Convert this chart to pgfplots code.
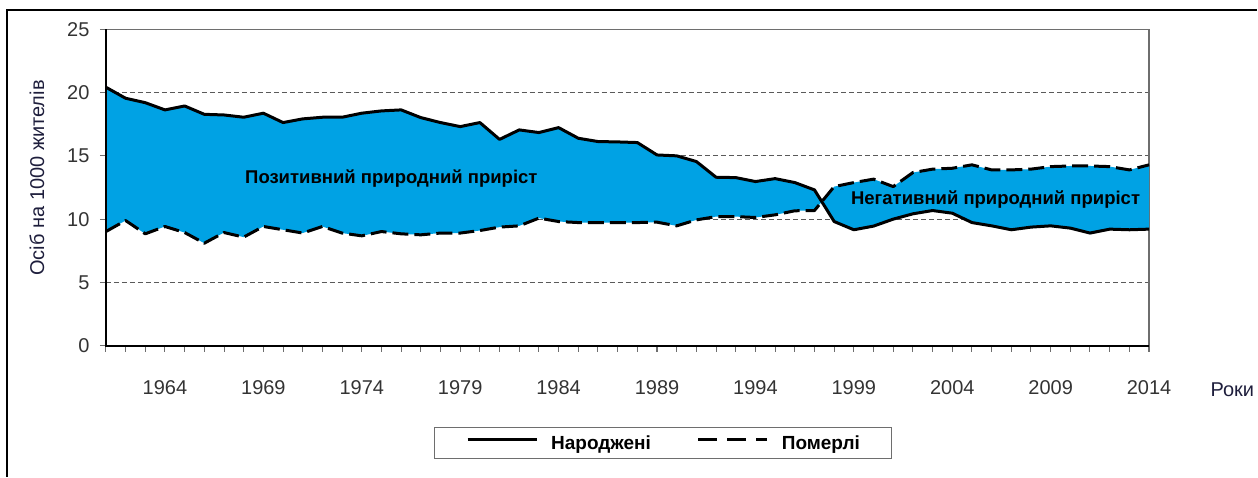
\documentclass[border=0pt]{standalone}
\usepackage{fontspec}
\setmainfont{Liberation Sans}
\usepackage{pgfplots}
\usepackage{pgfplotstable}
\pgfplotsset{compat=1.18}
\usepgfplotslibrary{fillbetween}
\definecolor{areablue}{RGB}{0,162,228}
\definecolor{gridgray}{RGB}{90,90,90}
\definecolor{framegray}{RGB}{110,110,110}
\definecolor{labelnavy}{RGB}{30,30,60}

\pgfplotstableread{
year births deaths
1961 20.42 9.02
1962 19.55 9.89
1963 19.20 8.84
1964 18.63 9.42
1965 18.94 8.94
1966 18.28 8.10
1967 18.23 8.94
1968 18.05 8.58
1969 18.37 9.42
1970 17.63 9.16
1971 17.92 8.90
1972 18.05 9.42
1973 18.05 8.90
1974 18.37 8.68
1975 18.55 9.02
1976 18.63 8.84
1977 18.02 8.76
1978 17.63 8.90
1979 17.31 8.90
1980 17.63 9.10
1981 16.30 9.37
1982 17.05 9.47
1983 16.84 10.08
1984 17.23 9.81
1985 16.39 9.73
1986 16.13 9.73
1987 16.10 9.73
1988 16.05 9.73
1989 15.07 9.76
1990 15.00 9.47
1991 14.55 9.94
1992 13.31 10.20
1993 13.28 10.20
1994 12.97 10.13
1995 13.20 10.34
1996 12.89 10.66
1997 12.31 10.68
1998 9.81 12.57
1999 9.16 12.89
2000 9.45 13.16
2001 10.00 12.57
2002 10.42 13.68
2003 10.68 13.95
2004 10.47 14.02
2005 9.73 14.29
2006 9.47 13.89
2007 9.16 13.89
2008 9.37 13.95
2009 9.47 14.15
2010 9.29 14.20
2011 8.90 14.20
2012 9.21 14.15
2013 9.16 13.89
2014 9.21 14.29
}\datatable

\begin{document}
\begin{tikzpicture}[x=1pt,y=1pt]
\draw[line width=2pt] (7.5,0) -- (7.5,467) -- (1258,467);
\begin{axis}[
  at={(106pt,131pt)}, anchor=south west,
  scale only axis, width=1044pt, height=316.7pt,
  xmin=1961, xmax=2014, ymin=0, ymax=25,
  set layers, clip=false,
  axis line style={framegray, line width=1.2pt},
  xtick={1964,1969,...,2014},
  minor xtick={1961,...,2014},
  ytick={0,5,...,25},
  tick pos=left,
  tick align=outside,
  major tick length=6pt, minor tick length=6pt,
  tick style={framegray, line width=1pt},
  ymajorgrids,
  grid style={dash pattern=on 5pt off 3pt, gridgray, line width=1pt},
  ticklabel style={font=\fontsize{20}{24}\selectfont, text=black!80},
  /pgf/number format/assume math mode=true,
  /pgf/number format/1000 sep={},
  xticklabel shift=25pt,
  yticklabel shift=7pt,
  xlabel={Роки},
  xlabel style={at={(axis description cs:1,0)}, anchor=base west, xshift=58pt, yshift=-50.7pt, font=\fontsize{20}{24}\selectfont, text=labelnavy},
  ylabel={Осіб на 1000 жителів},
  ylabel style={at={(axis description cs:-0.0661,0.53)}, anchor=center, font=\fontsize{20}{24}\selectfont, text=labelnavy},
  legend columns=2,
  legend cell align=left,
  legend style={at={(axis description cs:0.3142,-0.2558)}, anchor=north west,
    draw=framegray, line width=1.2pt, fill=white,
    inner xsep=32pt, inner ysep=8pt,
    font=\bfseries\fontsize{19}{22}\selectfont,
    nodes={inner sep=0pt},
    /tikz/every odd column/.append style={column sep=13pt},
    /tikz/every even column/.append style={column sep=46pt}},
  legend image code/.code={\draw[#1] (0pt,0.35em) -- (69pt,0.35em);},
]
\addplot[name path=births, black, line width=3pt, line join=round, forget plot] table[x=year,y=births]{\datatable};
\addplot[name path=deaths, black, line width=3pt, line join=round, dash pattern=on 16pt off 6pt, forget plot] table[x=year,y=deaths]{\datatable};
\addplot[areablue, forget plot] fill between[of=births and deaths];
\addlegendimage{black, line width=3pt}
\addlegendentry{Народжені}
\addlegendimage{black, line width=3pt, dash pattern=on 19pt off 10pt}
\addlegendentry{Померлі}
\draw[black, line width=2pt] (rel axis cs:0,1) -- (rel axis cs:0,0) -- (rel axis cs:1,0);
\node[anchor=base, font=\bfseries\fontsize{18.5}{22}\selectfont] at (axis cs:1975.5,12.79) {Позитивний природний приріст};
\node[anchor=base, font=\bfseries\fontsize{18.5}{22}\selectfont] at (axis cs:2006.2,11.13) {Негативний природний приріст};
\end{axis}
\path[use as bounding box] (0,0) rectangle (1258,477);
\end{tikzpicture}
\end{document}
